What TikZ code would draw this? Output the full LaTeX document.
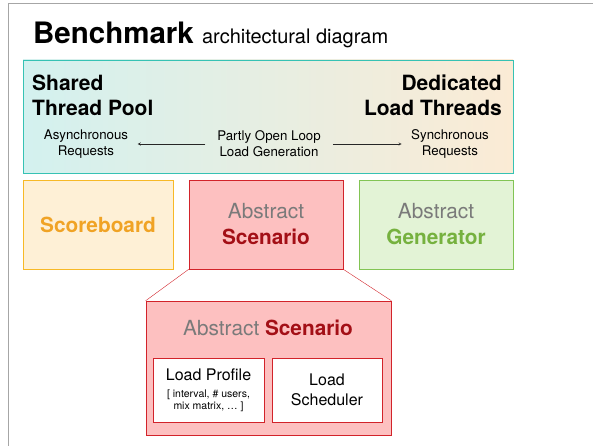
\documentclass[tikz,border=0pt]{standalone}
\usepackage{fontspec}
\setmainfont{TeX Gyre Heros}
\usetikzlibrary{positioning, arrows}
\definecolor{tealedge}{HTML}{36C2B4}
\definecolor{tealfill}{HTML}{D3F1EF}
\definecolor{peachfill}{HTML}{FBEBD5}
\definecolor{scoreedge}{HTML}{F7B927}
\definecolor{scorefill}{HTML}{FEF0D6}
\definecolor{scoretext}{HTML}{F0A325}
\definecolor{scenedge}{HTML}{D2232A}
\definecolor{scenfill}{HTML}{FDC0C0}
\definecolor{scentext}{HTML}{A30F16}
\definecolor{genedge}{HTML}{82C454}
\definecolor{genfill}{HTML}{E3F3D6}
\definecolor{gentext}{HTML}{76B13F}
\definecolor{abstext}{HTML}{7A7A7A}
\tikzstyle{arrow} = [->,>=stealth, shorten <=8.5pt, shorten >=6pt]
\newcommand{\smallnote}{\fontsize{10.5}{13}\selectfont}

\begin{document}
\begin{tikzpicture}[x=1pt, y=1pt,
comp/.style={rectangle, draw, semithick, minimum width=154pt, minimum height=89pt, font=\fontsize{20.8}{26}\selectfont, align=center},
inner/.style={rectangle, draw=scenedge, semithick, fill=white, minimum width=111pt, minimum height=64pt, align=center, font=\fontsize{16}{20}\selectfont},
mode/.style={font=\fontsize{21}{25}\selectfont\bfseries},
note/.style={font=\fontsize{13.3}{16}\selectfont, align=center}
]
\useasboundingbox (0,0) rectangle (593,446);
% slide frame
\draw[gray!70, thick] (593,443) -- (8,443) -- (8,0);

% title
\node[anchor=base west, inner sep=0] (title) at (33,402)
  {\fontsize{29.5}{34}\selectfont\bfseries Benchmark \fontsize{20}{24}\mdseries architectural diagram};

% load generation band
\node[rectangle, draw=tealedge, thick, left color=tealfill, right color=peachfill,
  minimum width=490pt, minimum height=113pt] (band) at (268,329.5) {};
\node[mode, anchor=north west, align=left, inner sep=0] (shared) at (32,371) {Shared\\Thread Pool};
\node[mode, anchor=north east, align=right, inner sep=0] (dedicated) at (502,371) {Dedicated\\Load Threads};
\node[note] (async) at (86,302) {Asynchronous\\Requests};
\node[note] (partly) at (269,302) {Partly Open Loop\\Load Generation};
\node[note] (sync) at (450,302) {Synchronous\\Requests};
\draw[arrow, gray!30!black] (partly) -- (async);
\draw[arrow, gray!30!black] (partly) -- (sync);

% components
\node[comp, draw=scoreedge, fill=scorefill, minimum width=150pt, text=scoretext] (score) at (98,221.5) {\bfseries Scoreboard};
\node[comp, draw=scenedge, fill=scenfill] (scen) at (266,221.5)
  {\textcolor{abstext}{Abstract}\\\textcolor{scentext}{\bfseries Scenario}};
\node[comp, draw=genedge, fill=genfill] (gen) at (436,221.5)
  {\textcolor{abstext}{Abstract}\\\textcolor{gentext}{\bfseries Generator}};

% scenario detail
\node[rectangle, draw=scenedge, semithick, fill=scenfill, minimum width=245pt, minimum height=134pt] (detail) at (268.5,78) {};
\node[font=\fontsize{20.8}{24}\selectfont] (dtitle) at (268,118)
  {\textcolor{abstext}{Abstract} \textcolor{scentext}{\bfseries Scenario}};
\node[inner] (profile) at (208.5,56)
  {Load Profile\\[-3pt]\smallnote [ interval, \# users,\\[-8pt]\smallnote mix matrix, \dots\ ]};
\node[inner, minimum width=110pt] (sched) at (327,56) {Load\\Scheduler};
\draw[scenedge] (scen.south west) -- (detail.north west);
\draw[scenedge] (scen.south east) -- (detail.north east);
\end{tikzpicture}
\end{document}
